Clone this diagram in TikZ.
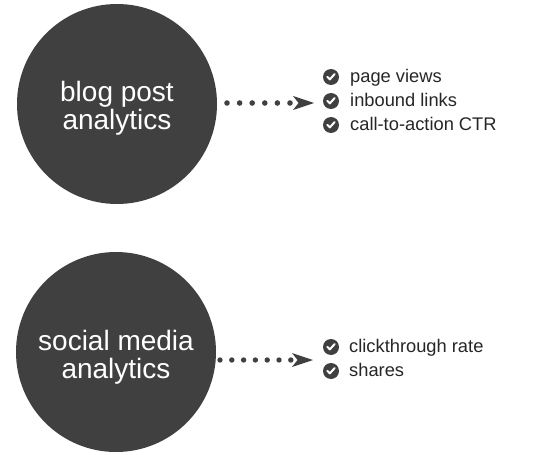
\documentclass[tikz,border=0pt]{standalone}
\usepackage{fontspec}
\setmainfont{Liberation Sans}
\definecolor{circ}{HTML}{404040}
\definecolor{txt}{HTML}{262626}
\begin{document}
\begin{tikzpicture}[x=1pt,y=-1pt,
  bigcirc/.style={circle, fill=circ, minimum size=200pt, inner sep=0pt},
  bigtext/.style={anchor=base, inner sep=0pt, text=white, font=\fontsize{28}{28}\selectfont},
  tick/.style={circle, fill=circ, minimum size=16pt, inner sep=0pt,
    path picture={\draw[white, line width=2pt, line cap=round, line join=round]
      ([shift={(-3.7pt,0.2pt)}]path picture bounding box.center) -- ++(2.5pt,-2.6pt) -- ++(4.9pt,5.4pt);}},
  item/.style={anchor=base west, inner sep=0pt, text=txt, font=\fontsize{18.3}{20}\selectfont},
  dotsA/.style={draw=circ, line width=5.6pt, line cap=round, dash pattern=on 0pt off 12.6pt},
  dotsB/.style={draw=circ, line width=5.4pt, line cap=round, dash pattern=on 0pt off 11.8pt},
  head/.style={fill=circ}
]
\useasboundingbox (0,0) rectangle (539,455);
% circles
\node[bigcirc] (blog) at (117,104) {};
\node[bigcirc] (social) at (116,352) {};
\node[bigtext] (blogA) at ([yshift=2.5pt]blog.center) {blog post};
\node[bigtext] (blogB) at ([yshift=-25pt]blog.center) {analytics};
\node[bigtext] (socA) at ([yshift=1.5pt]social.center) {social media};
\node[bigtext] (socB) at ([yshift=-26pt]social.center) {analytics};
% arrows
\coordinate (s1) at (227,103);
\coordinate (e1) at (314,103);
\coordinate (s2) at (220,360);
\coordinate (e2) at (313,360);
\draw[dotsA] (s1) -- ([xshift=-21pt]e1);
\fill[head] (e1) -- ++(-21,-7) -- ++(5.5,7) -- ++(-5.5,7) -- cycle;
\draw[dotsB] (s2) -- ([xshift=-21pt]e2);
\fill[head] (e2) -- ++(-21,-7) -- ++(5.5,7) -- ++(-5.5,7) -- cycle;
% checklist top
\node[tick] (c1) at (331,77) {};
\node[tick] (c2) at (331,101) {};
\node[tick] (c3) at (331,125) {};
\node[item] (t1) at (350,82) {page views};
\node[item] (t2) at (350,106) {inbound links};
\node[item] (t3) at (350,130) {call-to-action CTR};
% checklist bottom
\node[tick] (c4) at (331,347) {};
\node[tick] (c5) at (331,371) {};
\node[item] (t4) at (349,352) {clickthrough rate};
\node[item] (t5) at (349,376) {shares};
\end{tikzpicture}
\end{document}
